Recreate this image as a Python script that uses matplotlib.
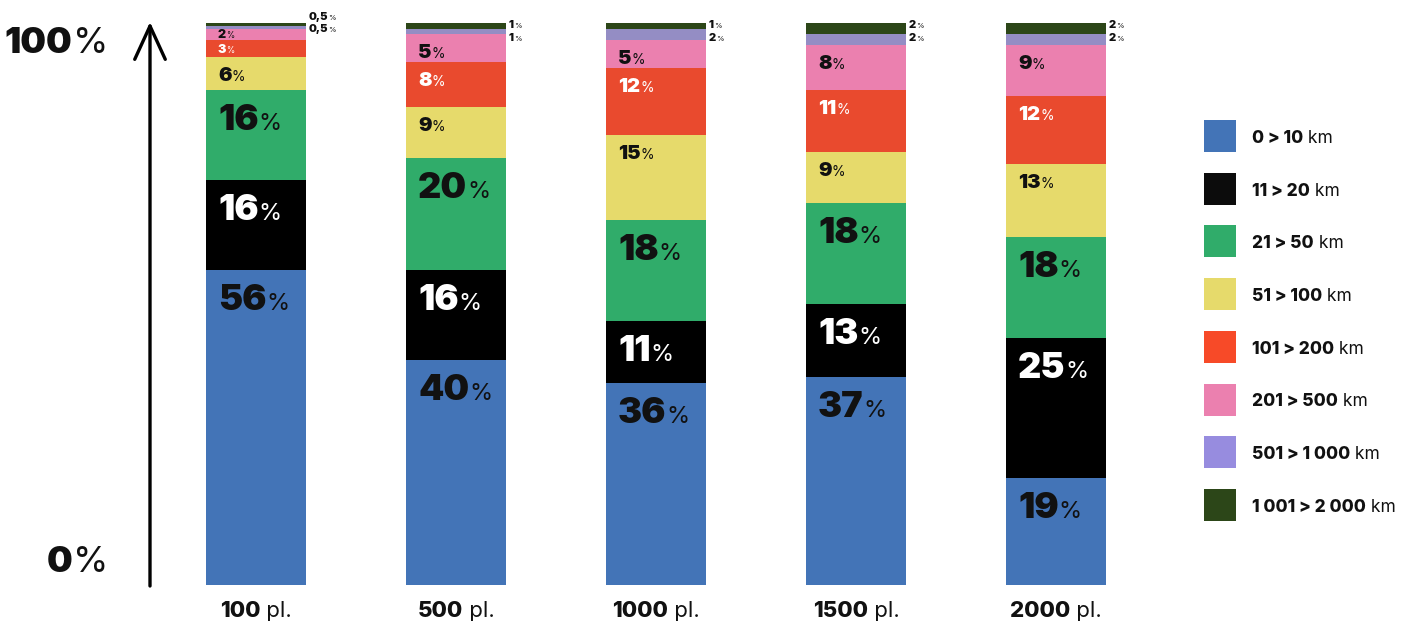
import matplotlib
matplotlib.use("Agg")
import matplotlib.pyplot as plt
from matplotlib.patches import Rectangle
from matplotlib.transforms import IdentityTransform
import numpy as np

# ---- data ----
groups = ["100", "500", "1000", "1500", "2000"]
group_suffix = " pl."
categories = ["0 > 10", "11 > 20", "21 > 50", "51 > 100", "101 > 200",
              "201 > 500", "501 > 1 000", "1 001 > 2 000"]
unit = " km"
v_0_10 = [56, 40, 36, 37, 19]
v_11_20 = [16, 16, 11, 13, 25]
v_21_50 = [16, 20, 18, 18, 18]
v_51_100 = [6, 9, 15, 9, 13]
v_101_200 = [3, 8, 12, 11, 12]
v_201_500 = [2, 5, 5, 8, 9]
v_501_1000 = [0.5, 1, 2, 2, 2]
v_1001_2000 = [0.5, 1, 1, 2, 2]
series = [v_0_10, v_11_20, v_21_50, v_51_100, v_101_200, v_201_500,
          v_501_1000, v_1001_2000]

bar_colors = ["#4374B7", "#000000", "#30AC6A", "#E6DA6B", "#E94A2E",
              "#EB80AF", "#948DC4", "#2C4618"]
legend_colors = ["#4374B7", "#0C0C0C", "#30AC6A", "#E6DA6B", "#F74A28",
                 "#EB80AF", "#978CDF", "#2C4618"]
label_colors = ["#111111", "white", "#111111", "#111111", "white",
                "#111111", "#111111", "#111111"]

W, H = 1419, 626
HEAVY = dict(family=["Inter", "DejaVu Sans"], weight=900)
BOLD = dict(family=["Inter", "DejaVu Sans"], weight=800)
REG = dict(family=["Inter", "DejaVu Sans"], weight="normal")

fig = plt.figure(figsize=(W / 100, H / 100), dpi=100)
ax = fig.add_axes([156 / W, (H - 585) / H, 1000 / W, 562 / H])
ax.set_xlim(-0.5, 4.5)
ax.set_ylim(0, 100)
ax.axis("off")

x = np.arange(len(groups))
width = 0.5
bottom = np.zeros(len(groups))
for vals, col in zip(series, bar_colors):
    ax.bar(x, vals, width=width, bottom=bottom, color=col, linewidth=0)
    bottom = bottom + np.array(vals, dtype=float)

renderer = fig.canvas.get_renderer()


def rich(px, py, parts, ha="left"):
    """px, py in display pixels (origin bottom-left); py = baseline."""
    texts = []
    for s, size, props, color in parts:
        t = fig.text(0, 0, s, transform=IdentityTransform(), fontsize=size,
                     color=color, va="baseline", ha="left", **props)
        texts.append(t)
    widths = [t.get_window_extent(renderer).width for t in texts]
    total = sum(widths)
    if ha == "center":
        start = px - total / 2
    elif ha == "right":
        start = px - total
    else:
        start = px
    cur = start
    for t, w in zip(texts, widths):
        t.set_position((cur, py))
        cur += w
    return texts


def fmt(v):
    s = f"{v:g}"
    return s.replace(".", ",")


# ---- value labels ----
cum = np.zeros(len(groups))
for si, vals in enumerate(series):
    for gi, v in enumerate(vals):
        top = cum[gi] + v
        left_px, top_px = ax.transData.transform((x[gi] - width / 2, top))
        right_px, _ = ax.transData.transform((x[gi] + width / 2, top))
        _, bartop_px = ax.transData.transform((x[gi], 100))
        col = label_colors[si]
        if si <= 2:
            rich(left_px + 12, top_px - 40,
                 [(fmt(v), 26, HEAVY, col), ("%", 17, REG, col)])
        elif si <= 5:
            if v < 5:
                off = 13 if si == 4 else 9
                rich(left_px + 12, top_px - off,
                     [(fmt(v), 9, HEAVY, col), ("%", 6, REG, col)])
            else:
                rich(left_px + 12, top_px - 24,
                     [(fmt(v), 14.5, HEAVY, col), ("%", 10, REG, col)])
        else:
            tiny = vals[gi] < 1
            if si == 7:
                off = -3 if tiny else 5
            else:
                off = 9 if tiny else 18
            rich(right_px + 3, bartop_px - off,
                 [(fmt(v), 8, HEAVY, "#111111"), ("%", 5.5, REG, "#111111")])
    cum = cum + np.array(vals, dtype=float)

# ---- group labels ----
for gi, g in enumerate(groups):
    cx, by = ax.transData.transform((x[gi], 0))
    rich(cx, by - 32, [(g, 16, BOLD, "#111111"),
                      (group_suffix, 16, REG, "#111111")], ha="center")

# ---- axis arrow and 0% / 100% ----
ax.annotate("", xy=(150, H - 22), xytext=(150, H - 586),
            xycoords="figure pixels", textcoords="figure pixels",
            arrowprops=dict(arrowstyle="->,head_length=1.2,head_width=0.55",
                            lw=2.4, color="black", mutation_scale=20,
                            capstyle="round", shrinkA=0, shrinkB=0))
_, y100 = ax.transData.transform((0, 100))
_, y0 = ax.transData.transform((0, 0))
rich(108, y100 - 30, [("100", 26, HEAVY, "#111111"), ("%", 26, REG, "#111111")],
     ha="right")
rich(108, y0 + 13, [("0", 26, HEAVY, "#111111"), ("%", 26, REG, "#111111")],
     ha="right")

# ---- legend ----
for i, (cat, col) in enumerate(zip(categories, legend_colors)):
    y_top = 120 + i * 52.7
    fig.patches.append(Rectangle((1204, H - y_top - 32), 32, 32,
                                 transform=IdentityTransform(),
                                 facecolor=col, edgecolor="none"))
    rich(1252, H - y_top - 23, [(cat, 12.5, BOLD, "#111111"),
                                (unit, 12.5, REG, "#111111")])

fig.savefig("out.png", dpi=100, facecolor="white")
